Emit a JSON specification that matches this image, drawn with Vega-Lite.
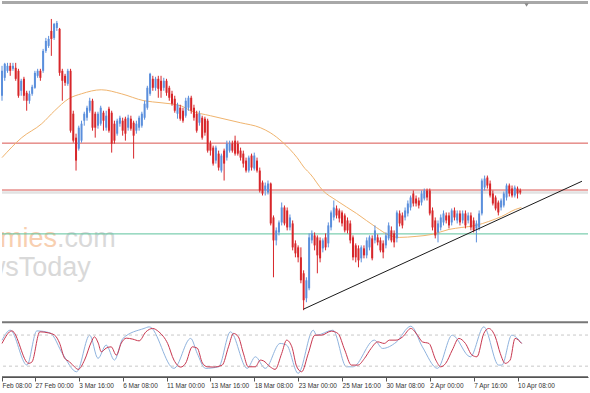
{
"$schema": "https://vega.github.io/schema/vega-lite/v6.json",
"width": 590, "height": 393,
"autosize": {"type": "fit", "contains": "padding"},
"padding": 0,
"background": "#ffffff",
"config": {"view": {"stroke": null}},
"datasets": {
"candles": [
{"k":0,"o":298,"h":328,"l":293,"c":323},{"k":1,"o":316,"h":331,"l":313,"c":330},{"k":2,"o":323,"h":331,"l":321,"c":328},{"k":3,"o":328,"h":331,"l":318,"c":323},{"k":4,"o":325,"h":331,"l":323,"c":328},{"k":5,"o":326,"h":331,"l":313,"c":315},{"k":6,"o":323,"h":325,"l":296,"c":298},{"k":7,"o":303,"h":315,"l":298,"c":313},{"k":8,"o":315,"h":317,"l":293,"c":298},{"k":9,"o":301,"h":303,"l":283,"c":293},
{"k":10,"o":293,"h":303,"l":290,"c":300},{"k":11,"o":300,"h":309,"l":298,"c":307},{"k":12,"o":306,"h":323,"l":305,"c":321},{"k":13,"o":318,"h":325,"l":316,"c":323},{"k":14,"o":323,"h":325,"l":313,"c":316},{"k":15,"o":323,"h":345,"l":321,"c":343},{"k":16,"o":343,"h":356,"l":341,"c":353},{"k":17,"o":348,"h":358,"l":346,"c":355},{"k":18,"o":363,"h":375,"l":338,"c":355},{"k":19,"o":356,"h":371,"l":354,"c":370},
{"k":20,"o":366,"h":373,"l":363,"c":371},{"k":21,"o":365,"h":366,"l":318,"c":321},{"k":22,"o":323,"h":325,"l":293,"c":313},{"k":23,"o":318,"h":320,"l":308,"c":311},{"k":24,"o":310,"h":325,"l":308,"c":323},{"k":25,"o":323,"h":325,"l":261,"c":263},{"k":26,"o":280,"h":283,"l":251,"c":253},{"k":27,"o":256,"h":260,"l":223,"c":233},{"k":28,"o":245,"h":268,"l":243,"c":266},{"k":29,"o":253,"h":273,"l":251,"c":270},
{"k":30,"o":273,"h":282,"l":268,"c":280},{"k":31,"o":276,"h":288,"l":273,"c":286},{"k":32,"o":283,"h":296,"l":281,"c":293},{"k":33,"o":293,"h":295,"l":263,"c":266},{"k":34,"o":280,"h":282,"l":256,"c":266},{"k":35,"o":268,"h":282,"l":265,"c":280},{"k":36,"o":270,"h":288,"l":268,"c":286},{"k":37,"o":281,"h":283,"l":263,"c":273},{"k":38,"o":266,"h":283,"l":263,"c":278},{"k":39,"o":285,"h":287,"l":261,"c":263},
{"k":40,"o":281,"h":283,"l":241,"c":250},{"k":41,"o":270,"h":273,"l":250,"c":253},{"k":42,"o":260,"h":275,"l":258,"c":273},{"k":43,"o":270,"h":278,"l":267,"c":276},{"k":44,"o":273,"h":276,"l":258,"c":263},{"k":45,"o":275,"h":277,"l":253,"c":260},{"k":46,"o":266,"h":279,"l":263,"c":276},{"k":47,"o":275,"h":278,"l":263,"c":265},{"k":48,"o":271,"h":273,"l":235,"c":258},{"k":49,"o":263,"h":273,"l":260,"c":270},
{"k":50,"o":266,"h":278,"l":263,"c":276},{"k":51,"o":268,"h":282,"l":266,"c":280},{"k":52,"o":276,"h":293,"l":274,"c":290},{"k":53,"o":286,"h":308,"l":284,"c":306},{"k":54,"o":300,"h":321,"l":298,"c":320},{"k":55,"o":315,"h":318,"l":303,"c":306},{"k":56,"o":306,"h":317,"l":303,"c":315},{"k":57,"o":315,"h":318,"l":296,"c":305},{"k":58,"o":313,"h":318,"l":296,"c":303},{"k":59,"o":306,"h":316,"l":303,"c":313},
{"k":60,"o":313,"h":315,"l":298,"c":301},{"k":61,"o":306,"h":308,"l":293,"c":296},{"k":62,"o":300,"h":303,"l":288,"c":290},{"k":63,"o":295,"h":298,"l":281,"c":283},{"k":64,"o":280,"h":291,"l":275,"c":289},{"k":65,"o":286,"h":289,"l":273,"c":275},{"k":66,"o":283,"h":286,"l":271,"c":273},{"k":67,"o":278,"h":296,"l":276,"c":293},{"k":68,"o":286,"h":298,"l":283,"c":296},{"k":69,"o":296,"h":298,"l":280,"c":283},
{"k":70,"o":286,"h":289,"l":273,"c":276},{"k":71,"o":280,"h":283,"l":261,"c":263},{"k":72,"o":271,"h":283,"l":268,"c":280},{"k":73,"o":276,"h":278,"l":254,"c":256},{"k":74,"o":275,"h":277,"l":258,"c":261},{"k":75,"o":273,"h":275,"l":241,"c":243},{"k":76,"o":250,"h":253,"l":238,"c":243},{"k":77,"o":246,"h":248,"l":228,"c":230},{"k":78,"o":233,"h":248,"l":230,"c":246},{"k":79,"o":240,"h":243,"l":223,"c":226},
{"k":80,"o":223,"h":240,"l":221,"c":238},{"k":81,"o":243,"h":245,"l":213,"c":230},{"k":82,"o":236,"h":253,"l":233,"c":250},{"k":83,"o":243,"h":253,"l":241,"c":250},{"k":84,"o":250,"h":253,"l":241,"c":243},{"k":85,"o":253,"h":258,"l":238,"c":240},{"k":86,"o":250,"h":253,"l":238,"c":240},{"k":87,"o":243,"h":246,"l":233,"c":236},{"k":88,"o":240,"h":243,"l":226,"c":230},{"k":89,"o":233,"h":236,"l":221,"c":223},
{"k":90,"o":223,"h":238,"l":221,"c":236},{"k":91,"o":238,"h":240,"l":223,"c":226},{"k":92,"o":225,"h":241,"l":223,"c":238},{"k":93,"o":233,"h":236,"l":221,"c":223},{"k":94,"o":223,"h":226,"l":201,"c":203},{"k":95,"o":211,"h":213,"l":198,"c":200},{"k":96,"o":203,"h":211,"l":198,"c":208},{"k":97,"o":201,"h":213,"l":199,"c":210},{"k":98,"o":210,"h":211,"l":168,"c":170},{"k":99,"o":176,"h":178,"l":116,"c":153},
{"k":100,"o":153,"h":166,"l":148,"c":163},{"k":101,"o":161,"h":173,"l":158,"c":171},{"k":102,"o":171,"h":191,"l":168,"c":186},{"k":103,"o":186,"h":188,"l":168,"c":170},{"k":104,"o":183,"h":186,"l":163,"c":166},{"k":105,"o":166,"h":179,"l":163,"c":176},{"k":106,"o":170,"h":173,"l":143,"c":146},{"k":107,"o":150,"h":153,"l":136,"c":140},{"k":108,"o":146,"h":148,"l":131,"c":136},{"k":109,"o":136,"h":146,"l":110,"c":113},
{"k":110,"o":120,"h":123,"l":83,"c":93},{"k":111,"o":95,"h":116,"l":91,"c":113},{"k":112,"o":105,"h":160,"l":103,"c":156},{"k":113,"o":153,"h":163,"l":150,"c":160},{"k":114,"o":158,"h":161,"l":143,"c":148},{"k":115,"o":156,"h":158,"l":120,"c":138},{"k":116,"o":153,"h":156,"l":131,"c":135},{"k":117,"o":145,"h":155,"l":141,"c":153},{"k":118,"o":156,"h":160,"l":143,"c":146},{"k":119,"o":150,"h":171,"l":146,"c":168},
{"k":120,"o":166,"h":183,"l":163,"c":181},{"k":121,"o":176,"h":193,"l":173,"c":186},{"k":122,"o":185,"h":188,"l":175,"c":178},{"k":123,"o":183,"h":185,"l":171,"c":175},{"k":124,"o":181,"h":183,"l":167,"c":170},{"k":125,"o":178,"h":180,"l":161,"c":163},{"k":126,"o":173,"h":176,"l":160,"c":163},{"k":127,"o":170,"h":173,"l":150,"c":153},{"k":128,"o":156,"h":158,"l":133,"c":136},{"k":129,"o":148,"h":150,"l":131,"c":136},
{"k":130,"o":145,"h":148,"l":126,"c":133},{"k":131,"o":135,"h":148,"l":131,"c":146},{"k":132,"o":145,"h":148,"l":135,"c":138},{"k":133,"o":138,"h":156,"l":135,"c":153},{"k":134,"o":146,"h":158,"l":143,"c":156},{"k":135,"o":155,"h":158,"l":133,"c":135},{"k":136,"o":153,"h":168,"l":150,"c":163},{"k":137,"o":156,"h":159,"l":148,"c":151},{"k":138,"o":153,"h":156,"l":141,"c":143},{"k":139,"o":150,"h":153,"l":135,"c":141},
{"k":140,"o":148,"h":161,"l":145,"c":158},{"k":141,"o":155,"h":171,"l":153,"c":168},{"k":142,"o":163,"h":167,"l":151,"c":153},{"k":143,"o":160,"h":163,"l":146,"c":151},{"k":144,"o":155,"h":183,"l":151,"c":181},{"k":145,"o":180,"h":183,"l":167,"c":170},{"k":146,"o":178,"h":181,"l":165,"c":168},{"k":147,"o":176,"h":186,"l":173,"c":183},{"k":148,"o":180,"h":193,"l":177,"c":190},{"k":149,"o":186,"h":198,"l":183,"c":196},
{"k":150,"o":200,"h":203,"l":187,"c":190},{"k":151,"o":195,"h":198,"l":187,"c":190},{"k":152,"o":193,"h":196,"l":185,"c":188},{"k":153,"o":191,"h":203,"l":188,"c":200},{"k":154,"o":195,"h":205,"l":193,"c":203},{"k":155,"o":203,"h":205,"l":193,"c":196},{"k":156,"o":203,"h":205,"l":178,"c":180},{"k":157,"o":183,"h":186,"l":163,"c":166},{"k":158,"o":173,"h":176,"l":155,"c":158},{"k":159,"o":161,"h":173,"l":151,"c":170},
{"k":160,"o":166,"h":179,"l":163,"c":176},{"k":161,"o":171,"h":183,"l":168,"c":180},{"k":162,"o":178,"h":181,"l":170,"c":173},{"k":163,"o":178,"h":181,"l":165,"c":168},{"k":164,"o":171,"h":185,"l":168,"c":183},{"k":165,"o":183,"h":186,"l":173,"c":176},{"k":166,"o":173,"h":183,"l":170,"c":180},{"k":167,"o":180,"h":183,"l":168,"c":171},{"k":168,"o":173,"h":183,"l":170,"c":180},{"k":169,"o":180,"h":183,"l":165,"c":168},
{"k":170,"o":173,"h":181,"l":170,"c":178},{"k":171,"o":178,"h":181,"l":163,"c":166},{"k":172,"o":173,"h":176,"l":161,"c":163},{"k":173,"o":165,"h":173,"l":151,"c":170},{"k":174,"o":166,"h":183,"l":163,"c":180},{"k":175,"o":180,"h":215,"l":178,"c":213},{"k":176,"o":206,"h":218,"l":203,"c":215},{"k":177,"o":216,"h":218,"l":205,"c":208},{"k":178,"o":210,"h":213,"l":196,"c":198},{"k":179,"o":200,"h":203,"l":188,"c":190},
{"k":180,"o":196,"h":198,"l":183,"c":185},{"k":181,"o":191,"h":193,"l":178,"c":181},{"k":182,"o":186,"h":195,"l":183,"c":193},{"k":183,"o":188,"h":202,"l":186,"c":200},{"k":184,"o":196,"h":210,"l":193,"c":208},{"k":185,"o":208,"h":210,"l":197,"c":200},{"k":186,"o":205,"h":208,"l":196,"c":198},{"k":187,"o":198,"h":208,"l":196,"c":206},{"k":188,"o":205,"h":207,"l":195,"c":200},{"k":189,"o":203,"h":205,"l":199,"c":201}
],
"ma": [
{"k":0,"p":236},{"k":7.2,"p":256},{"k":14.5,"p":270},{"k":19.2,"p":283},{"k":24.3,"p":295},{"k":29,"p":300},{"k":36.2,"p":304},{"k":43.5,"p":300},{"k":51.8,"p":293},{"k":58,"p":291},{"k":65.2,"p":288},{"k":68.8,"p":283},{"k":76,"p":278},{"k":86.9,"p":271},{"k":94.2,"p":266},{"k":97.8,"p":261},{"k":102.5,"p":251},{"k":107.6,"p":236},{"k":110.5,"p":225},{"k":112.3,"p":220},{"k":117,"p":203},{"k":122,"p":193},{"k":129.3,"p":180},{"k":136.5,"p":166},{"k":141.3,"p":158},{"k":144.9,"p":156},{"k":151,"p":157},{"k":156.8,"p":159},{"k":163,"p":164},{"k":167.7,"p":166},{"k":172.8,"p":168},{"k":177.5,"p":172},{"k":182.2,"p":177},{"k":187.2,"p":184},{"k":189.4,"p":186}
],
"trend": [{"k":109.9,"p":84},{"k":211.5,"p":212.3}],
"sig": [
{"k":0,"v":63.8},{"k":3.6,"v":88},{"k":9.7,"v":25.4},{"k":10.9,"v":27.9},{"k":13.8,"v":86.2},{"k":16.9,"v":84.2},{"k":19.2,"v":79.8},{"k":21,"v":64.4},{"k":22.8,"v":35.6},{"k":24.6,"v":28.5},{"k":26.4,"v":18.8},{"k":27.8,"v":13.8},{"k":30.1,"v":31.7},{"k":32.6,"v":66.9},{"k":33.7,"v":76.5},{"k":35.1,"v":64.4},{"k":36.2,"v":47.7},{"k":38,"v":54.8},{"k":39.8,"v":57.3},{"k":41.7,"v":41.3},{"k":43.5,"v":64.4},{"k":45.3,"v":74},{"k":47.7,"v":72.1},{"k":50,"v":68.8},{"k":52.5,"v":86.2},{"k":54.9,"v":92.7},{"k":57.2,"v":86.2},{"k":60.4,"v":63.8},{"k":62.7,"v":31.7},{"k":65.2,"v":18.3},{"k":67,"v":26},{"k":69.4,"v":57.3},{"k":71.2,"v":54.8},{"k":73.1,"v":26},{"k":74.9,"v":18.8},{"k":77.1,"v":18.3},{"k":80.3,"v":22.1},{"k":82.6,"v":57.3},{"k":84.4,"v":83.1},{"k":86.2,"v":76.5},{"k":88,"v":45.2},{"k":89.8,"v":18.8},{"k":92.4,"v":18.8},{"k":94.2,"v":31.7},{"k":95.3,"v":30.4},{"k":97.8,"v":18.8},{"k":99.6,"v":13.8},{"k":102,"v":44.6},{"k":103.8,"v":70.2},{"k":105.7,"v":57.3},{"k":107.5,"v":18.8},{"k":109.3,"v":9.2},{"k":111.7,"v":44.6},{"k":114.1,"v":79.8},{"k":116.5,"v":79.8},{"k":120.1,"v":87.5},{"k":122.5,"v":83.1},{"k":125,"v":51},{"k":127.4,"v":22.1},{"k":129.8,"v":22.1},{"k":132.2,"v":35},{"k":134.6,"v":54.2},{"k":137,"v":66.9},{"k":139.4,"v":63.8},{"k":141.3,"v":70.2},{"k":143.7,"v":70.2},{"k":146.1,"v":76.5},{"k":149.1,"v":92.7},{"k":151.5,"v":79.8},{"k":153.3,"v":66.9},{"k":155.7,"v":63.8},{"k":158.2,"v":31.7},{"k":160,"v":18.8},{"k":161.8,"v":25.4},{"k":164.2,"v":51},{"k":166.6,"v":73.5},{"k":169,"v":63.8},{"k":171.4,"v":41.3},{"k":173.2,"v":38.1},{"k":175.7,"v":83.1},{"k":177.5,"v":92.7},{"k":179.9,"v":76.5},{"k":181.7,"v":44.6},{"k":183.5,"v":25.4},{"k":185.3,"v":31.7},{"k":187.1,"v":73.5},{"k":189.5,"v":63.8}
],
"main": [
{"k":0,"v":70},{"k":3,"v":89.4},{"k":9.1,"v":22.1},{"k":12.7,"v":88},{"k":17.5,"v":84.2},{"k":22.3,"v":42},{"k":27.2,"v":9.2},{"k":32,"v":79.8},{"k":35,"v":35},{"k":38,"v":60.6},{"k":41,"v":31.7},{"k":44.1,"v":73.5},{"k":51.8,"v":92.7},{"k":53.7,"v":95.8},{"k":62.7,"v":15.8},{"k":68.8,"v":73.5},{"k":71.2,"v":44.6},{"k":74.2,"v":15.8},{"k":79,"v":18.8},{"k":83.3,"v":86.2},{"k":89.4,"v":15.8},{"k":92.4,"v":38.1},{"k":96,"v":15.8},{"k":101.4,"v":63.8},{"k":103.8,"v":60.6},{"k":108,"v":6.2},{"k":113.5,"v":89.4},{"k":114.7,"v":79.8},{"k":120.7,"v":89.4},{"k":125.6,"v":18.8},{"k":128,"v":18.8},{"k":135.8,"v":70.2},{"k":138.8,"v":54.2},{"k":143.7,"v":66},{"k":149.1,"v":97.1},{"k":153.3,"v":57.3},{"k":158.8,"v":15.8},{"k":164.2,"v":79.8},{"k":170.8,"v":38},{"k":175.7,"v":95.8},{"k":181.1,"v":22.1},{"k":182.3,"v":22.1},{"k":185.9,"v":79.8},{"k":189.5,"v":63.8}
]
},
"resolve": {"scale": {"y": "independent"}},
"layer": [
{"data": {"name": "main"},
 "mark": {"type": "line", "color": "#8fb3de", "strokeWidth": 1, "interpolate": "monotone"},
 "encoding": {"x": {"field": "k", "type": "quantitative", "scale": {"domain": [0, 213.7], "nice": false, "zero": false, "padding": 0},
   "axis": {"title": null, "orient": "bottom", "offset": -16, "grid": false,
     "values": [0, 12, 28, 44, 60, 76, 92, 108, 124, 140, 156, 172, 188],
     "labelExpr": "datum.value < 5 ? 'Feb 08:00' : ['27 Feb 00:00','3 Mar 16:00','6 Mar 08:00','11 Mar 00:00','13 Mar 16:00','18 Mar 08:00','23 Mar 00:00','25 Mar 16:00','30 Mar 08:00','2 Apr 00:00','7 Apr 16:00','10 Apr 08:00'][(datum.value - 12) / 16]",
     "domainColor": "#555555", "domainWidth": 1, "tickColor": "#555555", "tickSize": 4, "tickWidth": 1,
     "labelAlign": "left", "labelBaseline": "top", "labelDx": 1, "labelPadding": 1, "labelFlush": false, "labelOverlap": false,
     "labelFont": "Liberation Sans", "labelFontSize": 6.5, "labelColor": "#333333",
     "encode": {"ticks": {"update": {"opacity": {"signal": "datum.value < 5 ? 0 : 1"}}}}}},
  "y": {"field": "v", "type": "quantitative", "scale": {"domain": [-31.73, 724.04], "nice": false, "zero": false}, "axis": null}}},
{"data": {"values": [{"v": -1}]},
 "mark": {"type": "rule", "color": "#555555", "strokeWidth": 1.5},
 "encoding": {"y": {"field": "v", "type": "quantitative", "scale": {"domain": [-31.73, 724.04], "nice": false, "zero": false}, "axis": null}}},
{"data": {"values": [{"t": "Economies"}]},
 "mark": {"type": "text", "align": "right", "baseline": "alphabetic", "font": "Liberation Sans", "fontSize": 27, "color": "#f8cfb0", "clip": true},
 "encoding": {"text": {"field": "t"}, "x": {"datum": 20.1, "type": "quantitative"}, "y": {"datum": 146, "type": "quantitative", "scale": {"domain": [0, 393], "nice": false, "zero": false}, "axis": null}}},
{"data": {"values": [{"t": ".com"}]},
 "mark": {"type": "text", "align": "left", "baseline": "alphabetic", "font": "Liberation Sans", "fontSize": 27, "color": "#d9d9d9", "clip": true},
 "encoding": {"text": {"field": "t"}, "x": {"datum": 20.1, "type": "quantitative"}, "y": {"datum": 146, "type": "quantitative", "scale": {"domain": [0, 393], "nice": false, "zero": false}, "axis": null}}},
{"data": {"values": [{"t": "NewsToday"}]},
 "mark": {"type": "text", "align": "right", "baseline": "alphabetic", "font": "Liberation Sans", "fontSize": 27, "color": "#d9d9d9", "clip": true},
 "encoding": {"text": {"field": "t"}, "x": {"datum": 32.4, "type": "quantitative"}, "y": {"datum": 117, "type": "quantitative", "scale": {"domain": [0, 393], "nice": false, "zero": false}, "axis": null}}},
{"data": {"values": [{"p": 391.5}]},
 "mark": {"type": "rule", "color": "#a8a8a8", "strokeWidth": 3},
 "encoding": {"y": {"field": "p", "type": "quantitative", "scale": {"domain": [0, 393], "nice": false, "zero": false}, "axis": null}}},
{"data": {"values": [{"p": 71}]},
 "mark": {"type": "rule", "color": "#777777", "strokeWidth": 2},
 "encoding": {"y": {"field": "p", "type": "quantitative", "scale": {"domain": [0, 393], "nice": false, "zero": false}, "axis": null}}},
{"data": {"values": [{"p": 201}]},
 "mark": {"type": "rule", "color": "#e2e2e2", "strokeWidth": 2.5},
 "encoding": {"y": {"field": "p", "type": "quantitative", "scale": {"domain": [0, 393], "nice": false, "zero": false}, "axis": null}}},
{"data": {"values": [{"p": 250.5}, {"p": 203.5}]},
 "mark": {"type": "rule", "color": "#d9534f", "strokeWidth": 1},
 "encoding": {"y": {"field": "p", "type": "quantitative", "scale": {"domain": [0, 393], "nice": false, "zero": false}, "axis": null}}},
{"data": {"values": [{"p": 159.5}]},
 "mark": {"type": "rule", "color": "#5cc39c", "strokeWidth": 1},
 "encoding": {"y": {"field": "p", "type": "quantitative", "scale": {"domain": [0, 393], "nice": false, "zero": false}, "axis": null}}},
{"data": {"name": "ma"},
 "mark": {"type": "line", "color": "#f0b46e", "strokeWidth": 1, "interpolate": "monotone"},
 "encoding": {"x": {"field": "k", "type": "quantitative"}, "y": {"field": "p", "type": "quantitative", "scale": {"domain": [0, 393], "nice": false, "zero": false}, "axis": null}}},
{"data": {"name": "candles"},
 "mark": {"type": "rule", "strokeWidth": 1},
 "encoding": {"x": {"field": "k", "type": "quantitative"}, "y": {"field": "l", "type": "quantitative", "scale": {"domain": [0, 393], "nice": false, "zero": false}, "axis": null}, "y2": {"field": "h"},
  "color": {"condition": {"test": "datum.c >= datum.o", "value": "#5b8fdc"}, "value": "#d7262a"}}},
{"data": {"name": "candles"},
 "mark": {"type": "bar", "size": 2},
 "encoding": {"x": {"field": "k", "type": "quantitative"}, "y": {"field": "o", "type": "quantitative", "scale": {"domain": [0, 393], "nice": false, "zero": false}, "axis": null}, "y2": {"field": "c"},
  "color": {"condition": {"test": "datum.c >= datum.o", "value": "#5b8fdc"}, "value": "#d7262a"}}},
{"data": {"name": "trend"},
 "mark": {"type": "line", "color": "#1a1a1a", "strokeWidth": 1},
 "encoding": {"x": {"field": "k", "type": "quantitative"}, "y": {"field": "p", "type": "quantitative", "scale": {"domain": [0, 393], "nice": false, "zero": false}, "axis": null}}},
{"data": {"values": [{"k": 191.3, "p": 389}]},
 "mark": {"type": "point", "shape": "triangle-down", "filled": true, "size": 18, "color": "#888888", "opacity": 1},
 "encoding": {"x": {"field": "k", "type": "quantitative"}, "y": {"field": "p", "type": "quantitative", "scale": {"domain": [0, 393], "nice": false, "zero": false}, "axis": null}}},
{"data": {"values": [{"v": 80}, {"v": 20}]},
 "mark": {"type": "rule", "color": "#c8c8c8", "strokeWidth": 1, "strokeDash": [3, 3]},
 "encoding": {"y": {"field": "v", "type": "quantitative", "scale": {"domain": [-31.73, 724.04], "nice": false, "zero": false}, "axis": null}}},
{"data": {"name": "sig"},
 "mark": {"type": "line", "color": "#c8374f", "strokeWidth": 1, "interpolate": "monotone"},
 "encoding": {"x": {"field": "k", "type": "quantitative"},
  "y": {"field": "v", "type": "quantitative", "scale": {"domain": [-31.73, 724.04], "nice": false, "zero": false}, "axis": null}}}
]
}
